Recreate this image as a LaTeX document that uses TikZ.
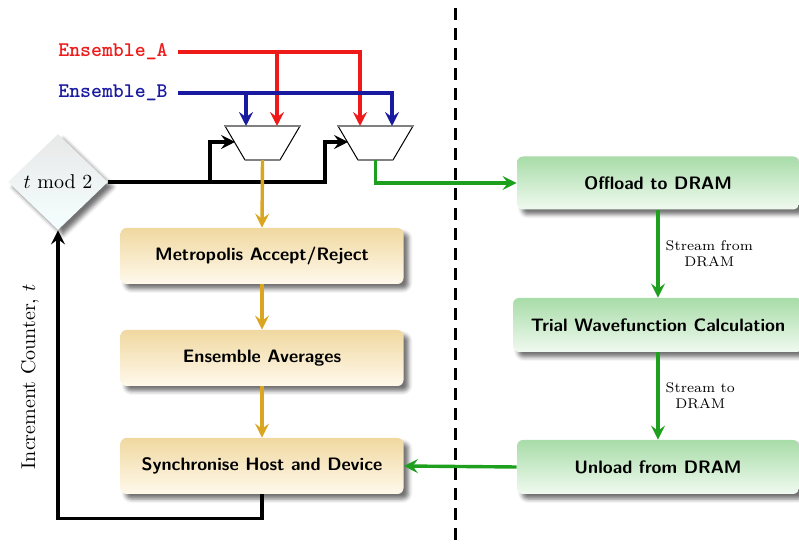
\documentclass[tikz,border=0pt]{standalone}
\usetikzlibrary{arrows.meta,shadows.blur,shapes.geometric,calc}
\definecolor{cred}{RGB}{238,26,26}
\definecolor{cblue}{RGB}{26,26,160}
\definecolor{corange}{RGB}{218,165,32}
\definecolor{cgreen}{RGB}{30,160,30}
\definecolor{ytop}{RGB}{240,216,160}
\definecolor{ybot}{RGB}{255,249,236}
\definecolor{gtop}{RGB}{168,220,168}
\definecolor{gbot}{RGB}{240,250,240}
\begin{document}
\begin{tikzpicture}[x=0.5pt,y=-0.5pt,
  tip/.style={-{Stealth[length=7pt,width=7pt,inset=2.6pt]}},
  wire/.style={line width=1.7pt},
  box/.style={rounded corners=3pt, font=\fontsize{9}{11}\selectfont\sffamily\bfseries, text=black,
    blur shadow={shadow xshift=2.5pt, shadow yshift=-2.5pt, shadow blur radius=2pt, shadow opacity=55}},
  ybox/.style={box, top color=ytop, bottom color=ybot, minimum width=141.5pt, minimum height=28pt},
  gbox/.style={box, top color=gtop, bottom color=gbot, minimum width=141pt, minimum height=26.5pt},
  muxs/.style={draw=black, line width=0.5pt, fill=white},
  lbl/.style={font=\scriptsize, text=black, align=center, right, inner sep=3pt}]
\useasboundingbox (0,0) rectangle (799,544);

% input labels
\node[anchor=east, inner sep=5pt, text=cred, font=\fontsize{10.4}{12}\selectfont\ttfamily\bfseries] (ea) at (178,52) {Ensemble\_A};
\node[anchor=east, inner sep=5pt, text=cblue, font=\fontsize{10.4}{12}\selectfont\ttfamily\bfseries] (eb) at (178,93) {Ensemble\_B};

% selector diamond
\node[diamond, inner sep=0pt, minimum width=50pt, minimum height=48pt,
  top color=gray!18, bottom color=cyan!4,
  blur shadow={shadow xshift=2.5pt, shadow yshift=-2.5pt, shadow blur radius=2pt, shadow opacity=55}] (tm) at (58,182) {$t$ mod 2};

% multiplexers
\coordinate (m1tl) at (225,126); \coordinate (m1tr) at (300,126);
\coordinate (m1br) at (280,160); \coordinate (m1bl) at (245,160);
\coordinate (m2tl) at (338,126); \coordinate (m2tr) at (413,126);
\coordinate (m2br) at (393,160); \coordinate (m2bl) at (358,160);
\draw[muxs] (m1tl) -- (m1tr) -- (m1br) -- (m1bl) -- cycle;
\draw[muxs] (m2tl) -- (m2tr) -- (m2br) -- (m2bl) -- cycle;
\draw[gray, line width=0.9pt] (m1tl) -- (m1tr) (m1bl) -- (m1br);
\draw[gray, line width=0.9pt] (m2tl) -- (m2tr) (m2bl) -- (m2br);
\coordinate (m1a) at (246,126); \coordinate (m1b) at (277,126);
\coordinate (m1s) at (235,142); \coordinate (m1o) at (262.5,160);
\coordinate (m2a) at (360,126); \coordinate (m2b) at (392,126);
\coordinate (m2s) at (348,142); \coordinate (m2o) at (375.5,160);
\coordinate (c1) at (210,142); \coordinate (c2) at (325,142);

% process boxes
\node[ybox] (metro) at (262,256) {Metropolis Accept/Reject};
\node[ybox] (avg) at (262,358) {Ensemble Averages};
\node[ybox] (sync) at (262,466) {Synchronise Host and Device};
\node[gbox] (off) at (658,183) {Offload to DRAM};
\node[gbox, minimum width=145pt, minimum height=27pt] (trial) at (658,325) {Trial Wavefunction Calculation};
\node[gbox, minimum height=27pt] (unl) at (658,467) {Unload from DRAM};

\node[rotate=90] (inc) at (30,377) {Increment Counter, $t$};

% ensemble wires
\draw[wire, cred, tip] (ea.east) -| (m2a);
\draw[wire, cred, tip] (ea.east -| m1b) -- (m1b);
\draw[wire, cblue, tip] (eb.east) -| (m2b);
\draw[wire, cblue, tip] (eb.east -| m1a) -- (m1a);

% select wires
\draw[wire, black, tip] (tm.east) -| (c1) -- (m1s);
\draw[wire, black, tip] (tm.east) -| (c2) -- (m2s);

% host flow
\draw[wire, corange, tip] (m1o) -- (metro.north);
\draw[wire, corange, tip] (metro.south) -- (avg.north);
\draw[wire, corange, tip] (avg.south) -- (sync.north);
\draw[wire, black, tip] (sync.south) -- ++(0,24) -| (tm.south);

% device flow
\draw[wire, cgreen, tip] (m2o) |- (off.west);
\draw[wire, cgreen, tip] (off.south) -- node[lbl] {Stream from\\DRAM} (trial.north);
\draw[wire, cgreen, tip] (trial.south) -- node[lbl] {Stream to\\DRAM} (unl.north);
\draw[wire, cgreen, tip] (unl.west) -- (sync.east);

% divider
\coordinate (dtop) at (455,8); \coordinate (dbot) at (455,548);
\draw[line width=1.5pt, dash pattern=on 6pt off 4pt] (dtop) -- (dbot);
\end{tikzpicture}
\end{document}
